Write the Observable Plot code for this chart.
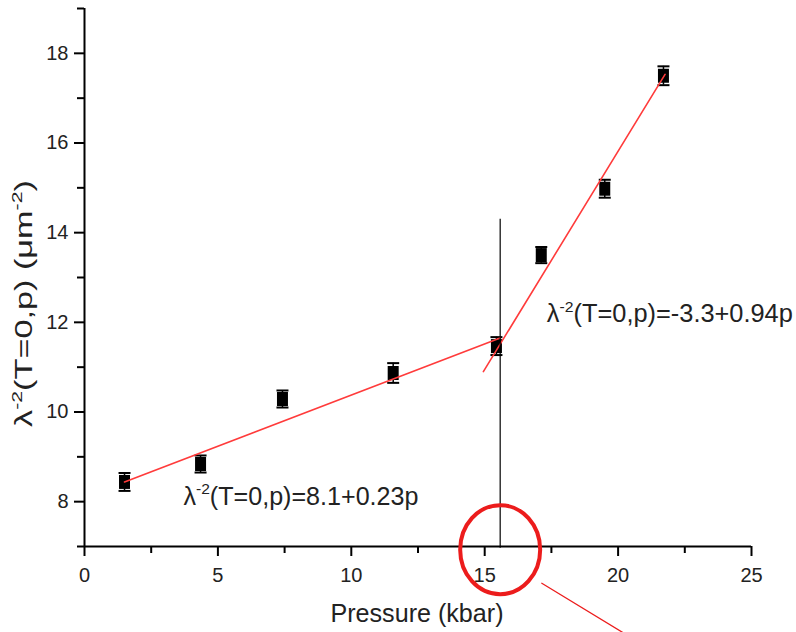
<!DOCTYPE html>
<html><head><meta charset="utf-8">
<script src="https://cdn.jsdelivr.net/npm/d3@7"></script>
<script src="https://cdn.jsdelivr.net/npm/@observablehq/plot@0.6"></script>
<style>body{margin:0;background:#fff} svg{display:block}</style>
</head><body><div id="chart"></div>
<script>
// ---- data ----
const pressure   = [1.5, 4.35, 7.42, 11.57, 15.44, 17.12, 19.5, 21.7];
const lambda2    = [8.44, 8.84, 10.29, 10.87, 11.47, 13.5, 14.98, 17.5];
const lambda2Err = [0.2, 0.19, 0.19, 0.22, 0.2, 0.18, 0.2, 0.21];

const fitLowP  = [1.5, 15.58];
const fitLowL  = [8.44, 11.65];
const fitHighP = [14.95, 21.76];
const fitHighL = [10.9, 17.53];

const transitionP = [15.58];
const transitionTop = [14.3];
const transitionBottom = [6.96];
const circleP = [15.58];
const circleL = [6.93];
const calloutP = [17.14, 20.65];
const calloutL = [6.18, 4.91];

const xMajor = [0, 5, 10, 15, 20, 25];
const xMinor = [2.5, 7.5, 12.5, 17.5, 22.5];
const yMajor = [8, 10, 12, 14, 16, 18];
const yMinor = [7, 9, 11, 13, 15, 17, 19];

const eqTexts = ["λ{-2}(T=0,p)=8.1+0.23p", "λ{-2}(T=0,p)=-3.3+0.94p"];
const eqP = [3.71, 17.33];
const eqL = [8.11, 12.18];
const xLabel = "Pressure (kbar)";
const yLabel = "λ{-2}(T=0,p) (μm{-2})";

// ---- build ----
const pts = pressure.map((p, i) => ({p, l: lambda2[i], e: lambda2Err[i]}));
const fitLow = fitLowP.map((p, i) => ({p, l: fitLowL[i]}));
const fitHigh = fitHighP.map((p, i) => ({p, l: fitHighL[i]}));
const transition = transitionP.map((p, i) => ({p, top: transitionTop[i], bottom: transitionBottom[i]}));
const circle = circleP.map((p, i) => ({p, l: circleL[i]}));
const callout = calloutP.map((p, i) => ({p, l: calloutL[i]}));
const eqs = eqTexts.map((t, i) => ({t, p: eqP[i], l: eqL[i]}));

const boxSymbol = {draw(ctx) { ctx.rect(-5.5, -7, 11, 14); }};
const capSymbol = {draw(ctx) { ctx.moveTo(-6, 0); ctx.lineTo(6, 0); }};
const ellipseSymbol = {draw(ctx) {
  const rx = 40, ry = 44.5, k = 0.5523;
  ctx.moveTo(rx, 0);
  ctx.bezierCurveTo(rx, ry * k, rx * k, ry, 0, ry);
  ctx.bezierCurveTo(-rx * k, ry, -rx, ry * k, -rx, 0);
  ctx.bezierCurveTo(-rx, -ry * k, -rx * k, -ry, 0, -ry);
  ctx.bezierCurveTo(rx * k, -ry, rx, -ry * k, rx, 0);
  ctx.closePath();
}};

const red = "#ff3b3b";
const ink = "#222";

const chart = Plot.plot({
  width: 796,
  height: 632,
  marginLeft: 84,
  marginRight: 45,
  marginTop: 8,
  marginBottom: 86,
  style: {fontFamily: "'Liberation Sans', Arial, sans-serif", background: "white", color: ink},
  x: {domain: [0, 25]},
  y: {domain: [7, 19]},
  marks: [
    Plot.axisX({ticks: xMajor, tickSize: 10, tickPadding: 11, fontSize: 20, label: null, stroke: "black", strokeWidth: 2, fill: ink}),
    Plot.axisX({ticks: xMinor, tickSize: 7, tickFormat: () => "", label: null, stroke: "black", strokeWidth: 2}),
    Plot.axisY({ticks: yMajor, tickSize: 10, tickPadding: 6, fontSize: 20, label: null, stroke: "black", strokeWidth: 2, fill: ink}),
    Plot.axisY({ticks: yMinor, tickSize: 7, tickFormat: () => "", label: null, stroke: "black", strokeWidth: 2}),
    Plot.ruleY([7], {x1: 0, x2: 25, stroke: "black", strokeWidth: 2}),
    Plot.ruleX([0], {y1: 7, y2: 19, stroke: "black", strokeWidth: 2}),
    Plot.ruleX(pts, {x: "p", y1: d => d.l - d.e, y2: d => d.l + d.e, stroke: "black", strokeWidth: 1.5}),
    Plot.dot(pts, {x: "p", y: d => d.l - d.e, symbol: capSymbol, stroke: "black", strokeWidth: 2, fill: "none"}),
    Plot.dot(pts, {x: "p", y: d => d.l + d.e, symbol: capSymbol, stroke: "black", strokeWidth: 2, fill: "none"}),
    Plot.dot(pts, {x: "p", y: "l", symbol: boxSymbol, fill: "black", stroke: "none"}),
    Plot.line(fitLow, {x: "p", y: "l", stroke: red, strokeWidth: 1.6}),
    Plot.line(fitHigh, {x: "p", y: "l", stroke: red, strokeWidth: 1.6}),
    Plot.ruleX(transition, {x: "p", y1: "bottom", y2: "top", stroke: "black", strokeWidth: 1.2}),
    Plot.dot(circle, {x: "p", y: "l", symbol: ellipseSymbol, stroke: "#ec1c1c", strokeWidth: 4, fill: "none"}),
    Plot.line(callout, {x: "p", y: "l", stroke: "#ec1c1c", strokeWidth: 1.3}),
    Plot.text(eqs, {x: "p", y: "l", text: "t", textAnchor: "start", lineAnchor: "middle", fontSize: 25, fill: ink}),
    Plot.text([xLabel], {frameAnchor: "bottom", dx: -1, dy: 67, textAnchor: "middle", lineAnchor: "middle", fontSize: 25, fill: ink}),
    Plot.text([yLabel], {frameAnchor: "left", dx: -60, dy: 26, rotate: -90, textAnchor: "middle", lineAnchor: "middle", fontSize: 23, fill: ink})
  ]
});

document.getElementById("chart").appendChild(chart);

// superscripts and text stretching (to match the stretched original)
const targetLengths = {
  "λ{-2}(T=0,p)=8.1+0.23p": 235,
  "λ{-2}(T=0,p)=-3.3+0.94p": 246,
  "Pressure (kbar)": 173,
  "λ{-2}(T=0,p) (μm{-2})": 247
};
chart.querySelectorAll("text").forEach(t => {
  const str = t.textContent;
  const fs = parseFloat(getComputedStyle(t).fontSize) || 20;
  if (str.includes("{")) {
    t.textContent = "";
    const parts = str.split(/(\{[^}]*\})/).filter(s => s.length);
    let shifted = false;
    const ns = "http://www.w3.org/2000/svg";
    for (const part of parts) {
      const ts = document.createElementNS(ns, "tspan");
      if (part.startsWith("{")) {
        ts.textContent = part.slice(1, -1);
        ts.setAttribute("font-size", (fs * 0.62).toFixed(1));
        ts.setAttribute("dy", (-fs * 0.42).toFixed(1));
        shifted = true;
      } else {
        ts.textContent = part;
        if (shifted) ts.setAttribute("dy", (fs * 0.42).toFixed(1));
        shifted = false;
      }
      t.appendChild(ts);
    }
  }
  if (targetLengths[str]) {
    t.setAttribute("textLength", targetLengths[str]);
    t.setAttribute("lengthAdjust", "spacingAndGlyphs");
  }
});
</script>
</body></html>
